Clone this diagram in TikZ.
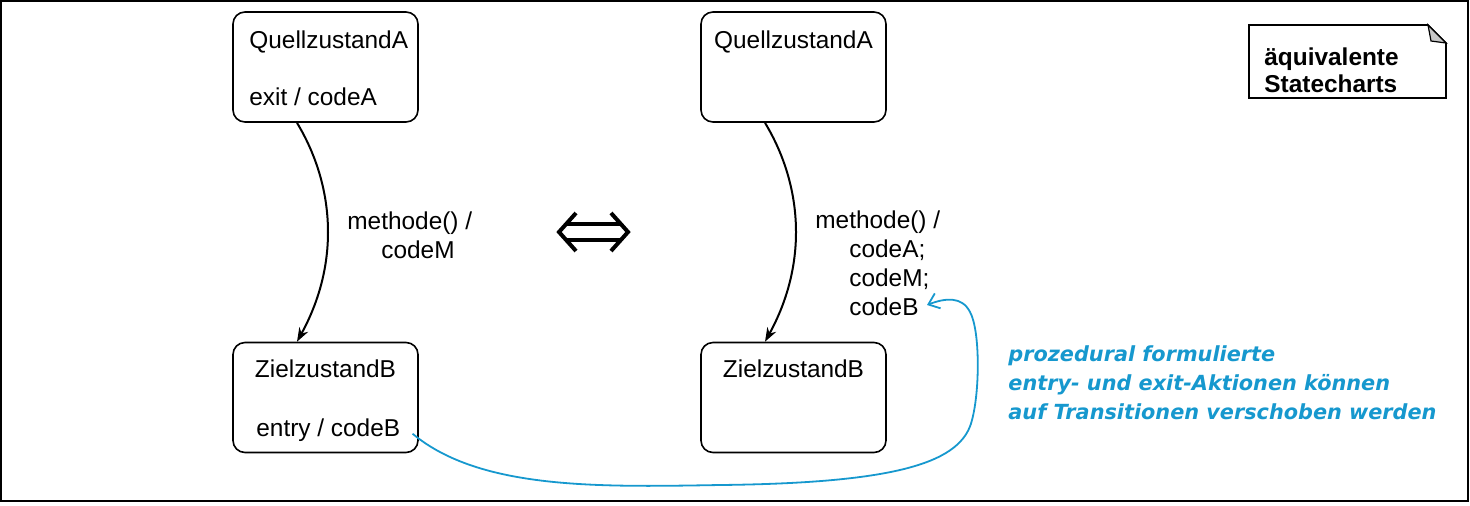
\documentclass[tikz,border=0pt]{standalone}
\usepackage{fontspec}
\setmainfont{Liberation Sans}
\newfontfamily\hintfont{DejaVu Sans}
\usetikzlibrary{arrows.meta}
\definecolor{hintblue}{RGB}{22,152,206}
\definecolor{foldgray}{RGB}{200,200,200}

\begin{document}
\begin{tikzpicture}[x=0.5pt, y=-0.5pt, font=\fontsize{12.2}{14.5}\selectfont,
  statebox/.style={draw, line width=0.8pt, rounded corners=6pt,
    minimum width=92.5pt, minimum height=55pt},
  lbl/.style={anchor=base west, inner sep=0pt, align=left},
  trans/.style={-{Stealth[length=7pt, width=5pt]}, line width=1pt},
  hint/.style={anchor=base west, inner sep=0pt, align=left, hintblue,
    font=\hintfont\bfseries\itshape\fontsize{10.4}{14.5}\selectfont}]

\useasboundingbox (0,0) rectangle (1470,505);
\draw[line width=0.8pt] (1,1) rectangle (1468,501);

% left: states with actions
\node[statebox] (qa1) at (325.5,67) {};
\node[lbl] (qa1name) at (249,48) {QuellzustandA};
\node[lbl] (qa1exit) at (249,105) {exit / codeA};

\node[statebox] (zb1) at (325.5,397.5) {};
\node[lbl, anchor=base] (zb1name) at (325.5,377) {ZielzustandB};
\node[lbl] (entryB) at (256,436) {entry / codeB};

\draw[trans] ([xshift=-14.25pt]qa1.south) .. controls +(38,63) and +(43,-78) .. ([xshift=-14.25pt]zb1.north);
% base of a multi-line node = baseline of its last line
\node[lbl] (lbl1) at (347,258) {methode() /\\\hspace*{17pt}codeM};

% equivalence sign
\draw[line width=2pt] (567,224) -- (620,224) (567,240) -- (620,240);
\draw[line width=2pt, line join=miter] (576,213) -- (559,232) -- (576,251);
\draw[line width=2pt, line join=miter] (611,213) -- (628,232) -- (611,251);

% right: actions moved onto the transition
\node[statebox] (qa2) at (793.5,67) {};
\node[lbl, anchor=base] (qa2name) at (793.5,48) {QuellzustandA};

\node[statebox] (zb2) at (793.5,397.5) {};
\node[lbl, anchor=base] (zb2name) at (793.5,377) {ZielzustandB};

\draw[trans] ([xshift=-14.25pt]qa2.south) .. controls +(38,63) and +(43,-78) .. ([xshift=-14.25pt]zb2.north);
\node[lbl] (lbl2) at (815,315) {methode() /\\\hspace*{17pt}codeA;\\\hspace*{17pt}codeM;\\\hspace*{17pt}codeB};
\coordinate (codeBtip) at (927,305);

% note
\draw[line width=0.8pt, fill=white] (1249,25) -- (1428,25) -- (1446,43) -- (1446,98) -- (1249,98) -- cycle;
\draw[line width=0.6pt, fill=foldgray] (1428,25) -- (1431,41) -- (1446,43) -- cycle;
\node[lbl, font=\bfseries\fontsize{12.2}{13.5}\selectfont] (note) at (1264,92) {äquivalente\\Statecharts};

% hint
\node[hint] (hinttext) at (1008,419) {prozedural formulierte\\entry- und exit-Aktionen können\\auf Transitionen verschoben werden};
\draw[hintblue, line width=0.9pt, -{Straight Barb[length=5pt, width=8pt]}]
  ([xshift=6pt,yshift=-2pt]entryB.east) .. controls (480,490) and (600,487) .. (720,485)
  .. controls (900,483) and (962,462) .. (972,420)
  .. controls (980,390) and (980,330) .. (970,312)
  .. controls (962,296) and (945,298) .. (codeBtip);

\end{tikzpicture}
\end{document}
